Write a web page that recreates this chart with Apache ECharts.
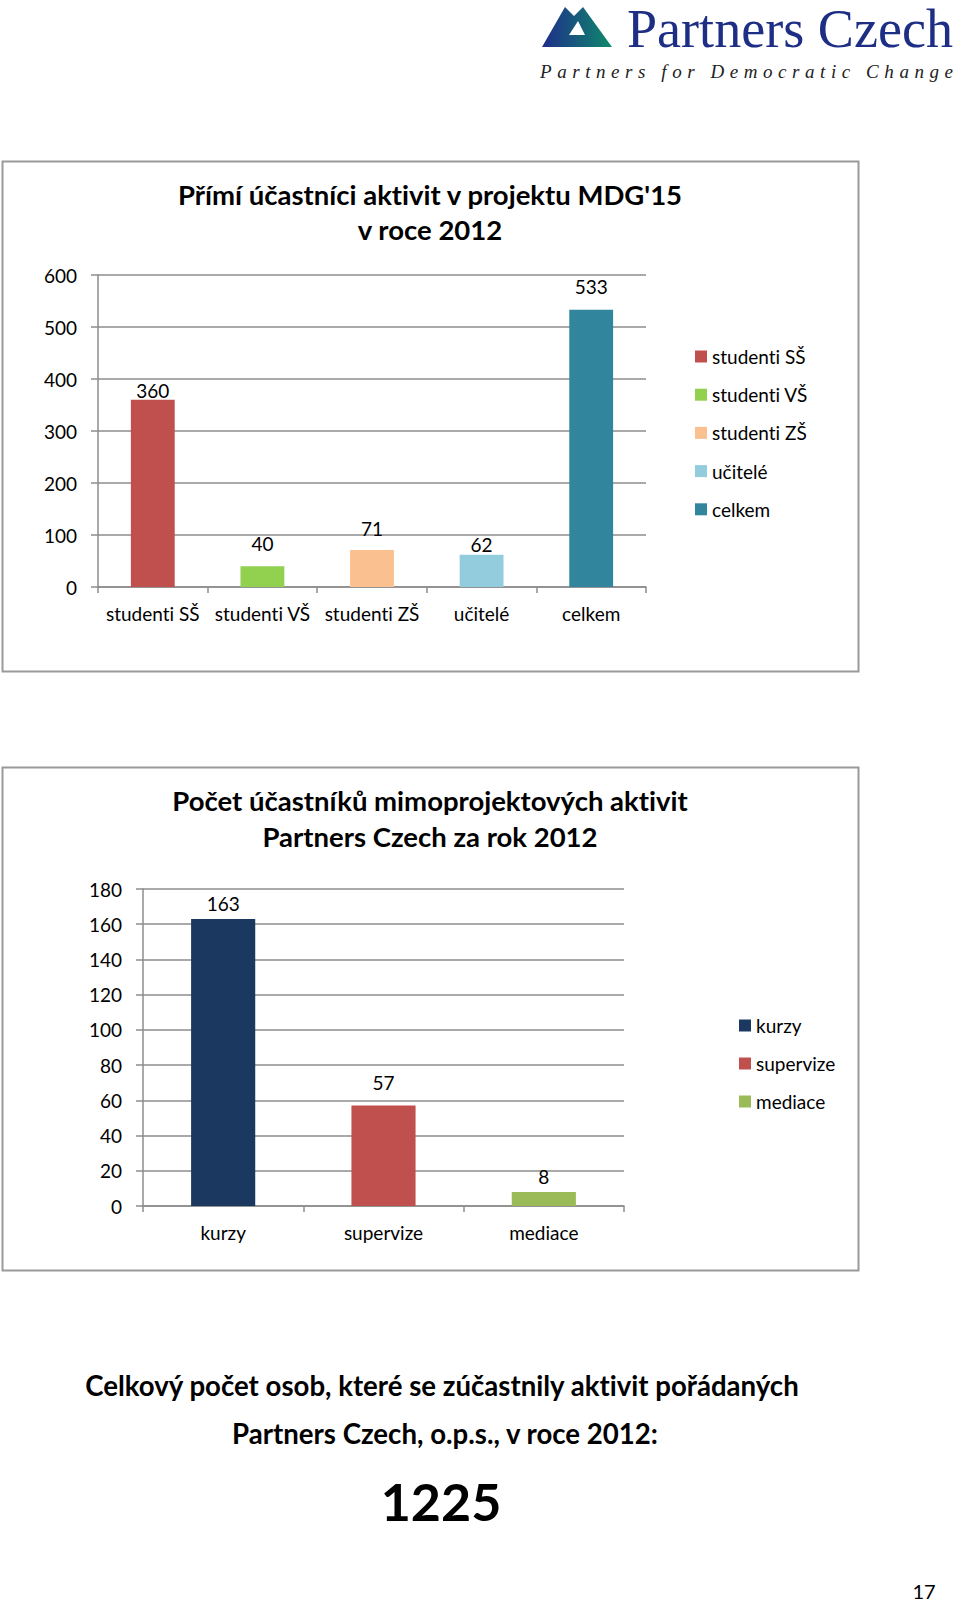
<!DOCTYPE html>
<html><head><meta charset="utf-8">
<script src="https://cdn.jsdelivr.net/npm/echarts@6/dist/echarts.min.js"></script>
<style>
html,body{margin:0;padding:0;background:#fff;}
#wrap{position:relative;width:960px;height:1603px;overflow:hidden;}
#chart{position:absolute;left:0;top:0;width:960px;height:1603px;}
#chart text{font-variant-ligatures:none;font-feature-settings:"liga" 0,"clig" 0,"dlig" 0;}
#logo{position:absolute;left:0;top:0;}
</style>
</head><body>
<div id="wrap">
<div id="chart"></div>
<svg id="logo" width="960" height="100" xmlns="http://www.w3.org/2000/svg">
  <defs>
    <linearGradient id="mg" x1="0" y1="0" x2="1" y2="0">
      <stop offset="0" stop-color="#1F2D8A"/>
      <stop offset="1" stop-color="#0F8A6C"/>
    </linearGradient>
  </defs>
  <polygon points="542,47 565,7 574,16 583,7 612,47" fill="url(#mg)"/>
  <polygon points="569,35 585,35 578,21" fill="#fff"/>
  <text x="627" y="47" font-family="Liberation Serif" font-size="54" fill="#1E2E85" textLength="326" lengthAdjust="spacingAndGlyphs">Partners Czech</text>
  <text x="540" y="78" font-family="Liberation Serif" font-style="italic" font-size="19" fill="#222" textLength="413" lengthAdjust="spacing">Partners for Democratic Change</text>
</svg>
</div>
<script>
// ---- data ----
const categories1 = ['studenti SŠ', 'studenti VŠ', 'studenti ZŠ', 'učitelé', 'celkem'];
const values1 = [360, 40, 71, 62, 533];
const yMin1 = 0, yMax1 = 600, yStep1 = 100;
const title1 = 'Přímí účastníci aktivit v projektu MDG\'15\nv roce 2012';

const categories2 = ['kurzy', 'supervize', 'mediace'];
const values2 = [163, 57, 8];
const yMin2 = 0, yMax2 = 180, yStep2 = 20;
const title2 = 'Počet účastníků mimoprojektových aktivit\nPartners Czech za rok 2012';

const summaryLine1 = 'Celkový počet osob, které se zúčastnily aktivit pořádaných';
const summaryLine2 = 'Partners Czech, o.p.s., v roce 2012:';
const summaryTotal = '1225';
const pageNumber = '17';

// ---- styles ----
const colors1 = ['#C0504D', '#92D050', '#FAC090', '#93CDDD', '#31859C'];
const colors2 = ['#1B3860', '#C0504D', '#9BBB59'];
const labelDist1 = [0, 13, 12, 1, 14];
const labelDist2 = [6, 14, 6];
const FONT = 'Lato';
const FS = 19;
const GRID_C = '#8c8c8c';

function buildSeries(cats, vals, colors, dists, idx) {
  return cats.map((name, i) => ({
    type: 'bar', name: name, xAxisIndex: idx, yAxisIndex: idx,
    barWidth: '40%', barGap: '-100%',
    itemStyle: { color: colors[i] },
    label: { show: true, position: 'top', distance: dists[i], fontFamily: FONT, fontSize: FS, color: '#000' },
    data: cats.map((c, j) => (j === i ? vals[i] : '-'))
  }));
}
function xAx(idx, cats, margin) {
  return {
    gridIndex: idx, type: 'category', data: cats,
    axisLine: { lineStyle: { color: GRID_C, width: 1.5 } },
    axisTick: { show: true, length: 6, lineStyle: { color: GRID_C, width: 1.5 } },
    axisLabel: { fontFamily: FONT, fontSize: FS, color: '#000', margin: margin, interval: 0 }
  };
}
function yAx(idx, min, max, step) {
  return {
    gridIndex: idx, type: 'value', min: min, max: max, interval: step,
    axisLine: { show: true, lineStyle: { color: GRID_C, width: 1.5 } },
    axisTick: { show: true, length: 7, lineStyle: { color: GRID_C, width: 1.5 } },
    splitLine: { lineStyle: { color: GRID_C, width: 1.5 } },
    axisLabel: { fontFamily: FONT, fontSize: FS, color: '#000', margin: 21, padding: [0, 0, 3, 0] }
  };
}

const chart = echarts.init(document.getElementById('chart'), null, { renderer: 'svg' });
chart.setOption({
  animation: false,
  backgroundColor: 'transparent',
  title: [
    { text: title1, left: 430, top: 177, textAlign: 'center', padding: 0,
      textStyle: { fontFamily: FONT, fontSize: 27.5, fontWeight: 'bold', color: '#000', lineHeight: 35 } },
    { text: title2, left: 430, top: 782, textAlign: 'center', padding: 0,
      textStyle: { fontFamily: FONT, fontSize: 27.5, fontWeight: 'bold', color: '#000', lineHeight: 36 } }
  ],
  legend: [
    { data: categories1, orient: 'vertical', left: 695, top: 347, padding: 0,
      icon: 'rect', itemWidth: 12, itemHeight: 12, itemGap: 19.2,
      textStyle: { fontFamily: FONT, fontSize: FS, color: '#000', lineHeight: 18 } },
    { data: categories2, orient: 'vertical', left: 739, top: 1016, padding: 0,
      icon: 'rect', itemWidth: 12, itemHeight: 12, itemGap: 19,
      textStyle: { fontFamily: FONT, fontSize: FS, color: '#000', lineHeight: 18 } }
  ],
  grid: [
    { left: 98, top: 275, width: 548, height: 312 },
    { left: 143, top: 889, width: 481, height: 317 }
  ],
  xAxis: [xAx(0, categories1, 17), xAx(1, categories2, 17)],
  yAxis: [yAx(0, yMin1, yMax1, yStep1), yAx(1, yMin2, yMax2, yStep2)],
  series: buildSeries(categories1, values1, colors1, labelDist1, 0)
    .concat(buildSeries(categories2, values2, colors2, labelDist2, 1)),
  graphic: [
    { type: 'rect', shape: { x: 2.5, y: 161.5, width: 856, height: 510 }, z: -10, silent: true,
      style: { fill: 'none', stroke: '#9a9a9a', lineWidth: 2 } },
    { type: 'rect', shape: { x: 2.5, y: 767.5, width: 856, height: 503 }, z: -10, silent: true,
      style: { fill: 'none', stroke: '#9a9a9a', lineWidth: 2 } },
    { type: 'text', x: 442, y: 1385, silent: true,
      style: { text: summaryLine1, fontFamily: FONT, fontSize: 27.6, fontWeight: 'bold', fill: '#000', align: 'center', verticalAlign: 'middle' } },
    { type: 'text', x: 445, y: 1433, silent: true,
      style: { text: summaryLine2, fontFamily: FONT, fontSize: 27.6, fontWeight: 'bold', fill: '#000', align: 'center', verticalAlign: 'middle' } },
    { type: 'text', x: 441, y: 1501, silent: true,
      style: { text: summaryTotal, fontFamily: FONT, fontSize: 52, fontWeight: 'bold', fill: '#000', align: 'center', verticalAlign: 'middle' } },
    { type: 'text', x: 924, y: 1591, silent: true,
      style: { text: pageNumber, fontFamily: FONT, fontSize: 20, fill: '#000', align: 'center', verticalAlign: 'middle' } }
  ]
});
</script>
</body></html>
